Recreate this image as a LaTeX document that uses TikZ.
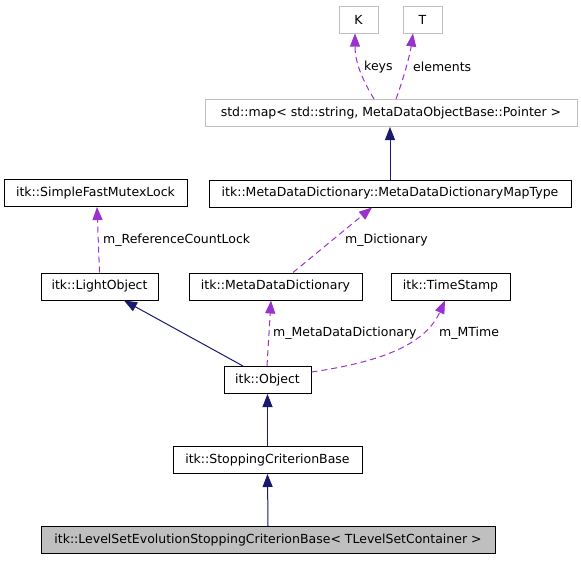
\documentclass[tikz,border=0pt]{standalone}
\usepackage{fontspec}
\setmainfont{DejaVu Sans}
\usetikzlibrary{arrows.meta}
\definecolor{inh}{HTML}{191970}
\definecolor{dep}{HTML}{9A32CD}
\definecolor{tgrey}{HTML}{BFBFBF}
\begin{document}
\begin{tikzpicture}[x=1pt,y=-1pt,
  lbl/.style={font=\fontsize{12.5}{14}\selectfont, inner sep=0pt},
  box/.style={lbl, draw=black, line width=1pt, fill=white, minimum height=27pt},
  tbox/.style={box, draw=tgrey},
  gbox/.style={box, fill=tgrey},
  inhline/.style={draw=inh, line width=1pt, -{Triangle[length=13pt,width=10pt]}},
  depline/.style={draw=dep, line width=1pt, dash pattern=on 6pt off 4pt, -{Triangle[length=13pt,width=10pt]}},
  edgelbl/.style={lbl, anchor=west}]
\useasboundingbox[fill=white] (0,0) rectangle (581,560);
% nodes
\node[tbox, minimum width=39pt]  (K)   at (358.5,19.5) {K};
\node[tbox, minimum width=39pt]  (T)   at (422.5,19.5) {T};
\node[tbox, minimum width=372pt] (map) at (391,113) {std::map< std::string, MetaDataObjectBase::Pointer >};
\node[box, minimum width=362pt]  (mt)  at (390,193.5) {itk::MetaDataDictionary::MetaDataDictionaryMapType};
\node[box, minimum width=183pt]  (sfml) at (95.5,193) {itk::SimpleFastMutexLock};
\node[box, minimum width=117pt]  (lo)  at (99.5,286.5) {itk::LightObject};
\node[box, minimum width=173pt]  (mdd) at (275.5,286.5) {itk::MetaDataDictionary};
\node[box, minimum width=119pt]  (ts)  at (450.5,286.5) {itk::TimeStamp};
\node[box, minimum width=87pt]   (obj) at (267.5,380) {itk::Object};
\node[box, minimum width=189pt]  (scb) at (267.5,460) {itk::StoppingCriterionBase};
\node[gbox, minimum width=454pt] (lvl) at (268,540) {itk::LevelSetEvolutionStoppingCriterionBase< TLevelSetContainer >};
% inheritance
\draw[inhline] (lvl.north) -- (scb.south);
\draw[inhline] (scb.north) -- (obj.south);
\draw[inhline] ([xshift=-24.5pt]obj.north) -- ([xshift=24.5pt]lo.south);
\draw[inhline] (mt.north) -- ([xshift=-1pt]map.south);
% usage
\draw[depline] ([xshift=-0.5pt]obj.north) -- ([xshift=-4.5pt]mdd.south);
\draw[depline] ([yshift=8pt]obj.east) .. controls (380,362) and (425,345) .. ([xshift=-5.5pt]ts.south);
\draw[depline] (lo.north) -- ([xshift=1.5pt]sfml.south);
\draw[depline] ([xshift=17.5pt]mdd.north) -- ([xshift=-18pt]mt.south);
\draw[depline] ([xshift=-17pt]map.north) .. controls (365,84) and (355,65) .. ([xshift=-3.5pt]K.south);
\draw[depline] ([xshift=5pt]map.north) .. controls (403,80) and (410,55) .. ([xshift=-9.5pt]T.south);
% labels
\node[edgelbl] (lkeys) at (364,67) {keys};
\node[edgelbl] (lel)   at (413,67) {elements};
\node[edgelbl] (lrcl)  at (103,240) {m\_ReferenceCountLock};
\node[edgelbl] (ldict) at (345,240) {m\_Dictionary};
\node[edgelbl] (lmdd)  at (273,333) {m\_MetaDataDictionary};
\node[edgelbl] (lmt)   at (439,333) {m\_MTime};
\end{tikzpicture}
\end{document}
